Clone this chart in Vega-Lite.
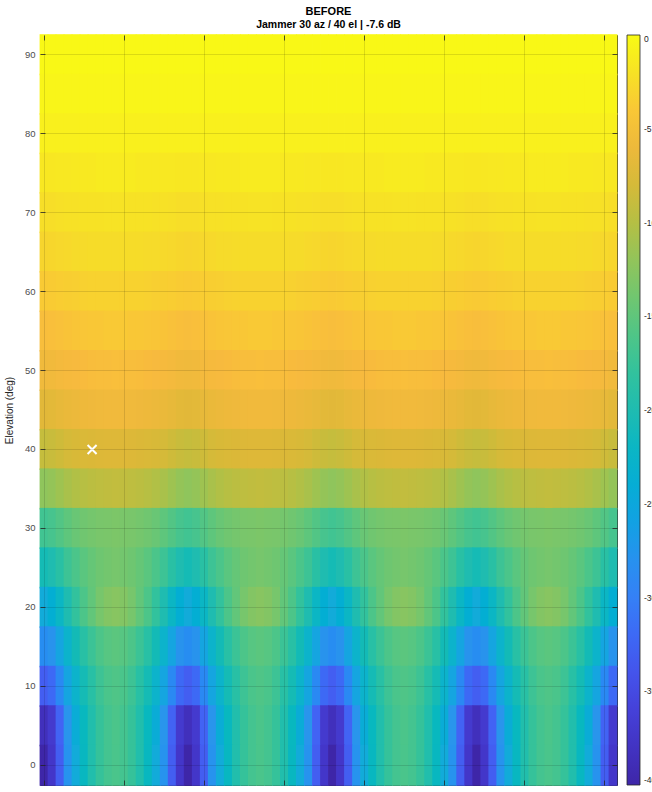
{
"$schema":"https://vega.github.io/schema/vega-lite/v6.json",
"width":577,"height":750,
"autosize":{"type":"none"},
"padding":{"left":40,"top":35,"right":35,"bottom":7},
"background":"white",
"config":{"view":{"stroke":"#262626","strokeWidth":1},"font":"Liberation Sans"},
"title":{"text":"BEFORE","subtitle":"Jammer 30 az / 40 el | -7.6 dB","fontSize":11,"fontWeight":"bold","color":"#000","subtitleFontSize":10.5,"subtitleFontWeight":"bold","subtitleColor":"#000","subtitleFont":"Liberation Sans","anchor":"middle","offset":4,"subtitlePadding":3},
"datasets":{"jam":[{"a":30,"e":40}],
"grid":[
{"a":0,"e":90,"v":-0.2},{"a":5,"e":90,"v":-0.2},{"a":10,"e":90,"v":-0.2},{"a":15,"e":90,"v":-0.2},{"a":20,"e":90,"v":-0.2},{"a":25,"e":90,"v":-0.2},{"a":30,"e":90,"v":-0.2},{"a":35,"e":90,"v":-0.2},{"a":40,"e":90,"v":-0.2},{"a":45,"e":90,"v":-0.2},{"a":50,"e":90,"v":-0.2},{"a":55,"e":90,"v":-0.2},{"a":60,"e":90,"v":-0.2},{"a":65,"e":90,"v":-0.2},{"a":70,"e":90,"v":-0.2},{"a":75,"e":90,"v":-0.2},{"a":80,"e":90,"v":-0.2},{"a":85,"e":90,"v":-0.2},
{"a":90,"e":90,"v":-0.2},{"a":95,"e":90,"v":-0.2},{"a":100,"e":90,"v":-0.2},{"a":105,"e":90,"v":-0.2},{"a":110,"e":90,"v":-0.2},{"a":115,"e":90,"v":-0.2},{"a":120,"e":90,"v":-0.2},{"a":125,"e":90,"v":-0.2},{"a":130,"e":90,"v":-0.2},{"a":135,"e":90,"v":-0.2},{"a":140,"e":90,"v":-0.2},{"a":145,"e":90,"v":-0.2},{"a":150,"e":90,"v":-0.2},{"a":155,"e":90,"v":-0.2},{"a":160,"e":90,"v":-0.2},{"a":165,"e":90,"v":-0.2},{"a":170,"e":90,"v":-0.2},{"a":175,"e":90,"v":-0.2},
{"a":180,"e":90,"v":-0.2},{"a":185,"e":90,"v":-0.2},{"a":190,"e":90,"v":-0.2},{"a":195,"e":90,"v":-0.2},{"a":200,"e":90,"v":-0.2},{"a":205,"e":90,"v":-0.2},{"a":210,"e":90,"v":-0.2},{"a":215,"e":90,"v":-0.2},{"a":220,"e":90,"v":-0.2},{"a":225,"e":90,"v":-0.2},{"a":230,"e":90,"v":-0.2},{"a":235,"e":90,"v":-0.2},{"a":240,"e":90,"v":-0.2},{"a":245,"e":90,"v":-0.2},{"a":250,"e":90,"v":-0.2},{"a":255,"e":90,"v":-0.2},{"a":260,"e":90,"v":-0.2},{"a":265,"e":90,"v":-0.2},
{"a":270,"e":90,"v":-0.2},{"a":275,"e":90,"v":-0.2},{"a":280,"e":90,"v":-0.2},{"a":285,"e":90,"v":-0.2},{"a":290,"e":90,"v":-0.2},{"a":295,"e":90,"v":-0.2},{"a":300,"e":90,"v":-0.2},{"a":305,"e":90,"v":-0.2},{"a":310,"e":90,"v":-0.2},{"a":315,"e":90,"v":-0.2},{"a":320,"e":90,"v":-0.2},{"a":325,"e":90,"v":-0.2},{"a":330,"e":90,"v":-0.2},{"a":335,"e":90,"v":-0.2},{"a":340,"e":90,"v":-0.2},{"a":345,"e":90,"v":-0.2},{"a":350,"e":90,"v":-0.2},{"a":355,"e":90,"v":-0.2},
{"a":0,"e":85,"v":-0.5},{"a":5,"e":85,"v":-0.5},{"a":10,"e":85,"v":-0.5},{"a":15,"e":85,"v":-0.5},{"a":20,"e":85,"v":-0.5},{"a":25,"e":85,"v":-0.5},{"a":30,"e":85,"v":-0.5},{"a":35,"e":85,"v":-0.5},{"a":40,"e":85,"v":-0.5},{"a":45,"e":85,"v":-0.5},{"a":50,"e":85,"v":-0.5},{"a":55,"e":85,"v":-0.5},{"a":60,"e":85,"v":-0.5},{"a":65,"e":85,"v":-0.5},{"a":70,"e":85,"v":-0.5},{"a":75,"e":85,"v":-0.5},{"a":80,"e":85,"v":-0.5},{"a":85,"e":85,"v":-0.5},
{"a":90,"e":85,"v":-0.5},{"a":95,"e":85,"v":-0.5},{"a":100,"e":85,"v":-0.5},{"a":105,"e":85,"v":-0.5},{"a":110,"e":85,"v":-0.5},{"a":115,"e":85,"v":-0.5},{"a":120,"e":85,"v":-0.5},{"a":125,"e":85,"v":-0.5},{"a":130,"e":85,"v":-0.5},{"a":135,"e":85,"v":-0.5},{"a":140,"e":85,"v":-0.5},{"a":145,"e":85,"v":-0.5},{"a":150,"e":85,"v":-0.5},{"a":155,"e":85,"v":-0.5},{"a":160,"e":85,"v":-0.5},{"a":165,"e":85,"v":-0.5},{"a":170,"e":85,"v":-0.5},{"a":175,"e":85,"v":-0.5},
{"a":180,"e":85,"v":-0.5},{"a":185,"e":85,"v":-0.5},{"a":190,"e":85,"v":-0.5},{"a":195,"e":85,"v":-0.5},{"a":200,"e":85,"v":-0.5},{"a":205,"e":85,"v":-0.5},{"a":210,"e":85,"v":-0.5},{"a":215,"e":85,"v":-0.5},{"a":220,"e":85,"v":-0.5},{"a":225,"e":85,"v":-0.5},{"a":230,"e":85,"v":-0.5},{"a":235,"e":85,"v":-0.5},{"a":240,"e":85,"v":-0.5},{"a":245,"e":85,"v":-0.5},{"a":250,"e":85,"v":-0.5},{"a":255,"e":85,"v":-0.5},{"a":260,"e":85,"v":-0.5},{"a":265,"e":85,"v":-0.5},
{"a":270,"e":85,"v":-0.5},{"a":275,"e":85,"v":-0.5},{"a":280,"e":85,"v":-0.5},{"a":285,"e":85,"v":-0.5},{"a":290,"e":85,"v":-0.5},{"a":295,"e":85,"v":-0.5},{"a":300,"e":85,"v":-0.5},{"a":305,"e":85,"v":-0.5},{"a":310,"e":85,"v":-0.5},{"a":315,"e":85,"v":-0.5},{"a":320,"e":85,"v":-0.5},{"a":325,"e":85,"v":-0.5},{"a":330,"e":85,"v":-0.5},{"a":335,"e":85,"v":-0.5},{"a":340,"e":85,"v":-0.5},{"a":345,"e":85,"v":-0.5},{"a":350,"e":85,"v":-0.5},{"a":355,"e":85,"v":-0.5},
{"a":0,"e":80,"v":-0.9},{"a":5,"e":80,"v":-0.9},{"a":10,"e":80,"v":-0.9},{"a":15,"e":80,"v":-0.9},{"a":20,"e":80,"v":-0.9},{"a":25,"e":80,"v":-0.9},{"a":30,"e":80,"v":-0.9},{"a":35,"e":80,"v":-0.9},{"a":40,"e":80,"v":-0.9},{"a":45,"e":80,"v":-0.9},{"a":50,"e":80,"v":-0.9},{"a":55,"e":80,"v":-0.9},{"a":60,"e":80,"v":-0.9},{"a":65,"e":80,"v":-0.9},{"a":70,"e":80,"v":-0.9},{"a":75,"e":80,"v":-0.9},{"a":80,"e":80,"v":-0.9},{"a":85,"e":80,"v":-0.9},
{"a":90,"e":80,"v":-0.9},{"a":95,"e":80,"v":-0.9},{"a":100,"e":80,"v":-0.9},{"a":105,"e":80,"v":-0.9},{"a":110,"e":80,"v":-0.9},{"a":115,"e":80,"v":-0.9},{"a":120,"e":80,"v":-0.9},{"a":125,"e":80,"v":-0.9},{"a":130,"e":80,"v":-0.9},{"a":135,"e":80,"v":-0.9},{"a":140,"e":80,"v":-0.9},{"a":145,"e":80,"v":-0.9},{"a":150,"e":80,"v":-0.9},{"a":155,"e":80,"v":-0.9},{"a":160,"e":80,"v":-0.9},{"a":165,"e":80,"v":-0.9},{"a":170,"e":80,"v":-0.9},{"a":175,"e":80,"v":-0.9},
{"a":180,"e":80,"v":-0.9},{"a":185,"e":80,"v":-0.9},{"a":190,"e":80,"v":-0.9},{"a":195,"e":80,"v":-0.9},{"a":200,"e":80,"v":-0.9},{"a":205,"e":80,"v":-0.9},{"a":210,"e":80,"v":-0.9},{"a":215,"e":80,"v":-0.9},{"a":220,"e":80,"v":-0.9},{"a":225,"e":80,"v":-0.9},{"a":230,"e":80,"v":-0.9},{"a":235,"e":80,"v":-0.9},{"a":240,"e":80,"v":-0.9},{"a":245,"e":80,"v":-0.9},{"a":250,"e":80,"v":-0.9},{"a":255,"e":80,"v":-0.9},{"a":260,"e":80,"v":-0.9},{"a":265,"e":80,"v":-0.9},
{"a":270,"e":80,"v":-0.9},{"a":275,"e":80,"v":-0.9},{"a":280,"e":80,"v":-0.9},{"a":285,"e":80,"v":-0.9},{"a":290,"e":80,"v":-0.9},{"a":295,"e":80,"v":-0.9},{"a":300,"e":80,"v":-0.9},{"a":305,"e":80,"v":-0.9},{"a":310,"e":80,"v":-0.9},{"a":315,"e":80,"v":-0.9},{"a":320,"e":80,"v":-0.9},{"a":325,"e":80,"v":-0.9},{"a":330,"e":80,"v":-0.9},{"a":335,"e":80,"v":-0.9},{"a":340,"e":80,"v":-0.9},{"a":345,"e":80,"v":-0.9},{"a":350,"e":80,"v":-0.9},{"a":355,"e":80,"v":-0.9},
{"a":0,"e":75,"v":-1.6},{"a":5,"e":75,"v":-1.6},{"a":10,"e":75,"v":-1.5},{"a":15,"e":75,"v":-1.5},{"a":20,"e":75,"v":-1.4},{"a":25,"e":75,"v":-1.4},{"a":30,"e":75,"v":-1.4},{"a":35,"e":75,"v":-1.3},{"a":40,"e":75,"v":-1.3},{"a":45,"e":75,"v":-1.3},{"a":50,"e":75,"v":-1.3},{"a":55,"e":75,"v":-1.3},{"a":60,"e":75,"v":-1.4},{"a":65,"e":75,"v":-1.4},{"a":70,"e":75,"v":-1.4},{"a":75,"e":75,"v":-1.5},{"a":80,"e":75,"v":-1.5},{"a":85,"e":75,"v":-1.6},
{"a":90,"e":75,"v":-1.6},{"a":95,"e":75,"v":-1.6},{"a":100,"e":75,"v":-1.5},{"a":105,"e":75,"v":-1.5},{"a":110,"e":75,"v":-1.4},{"a":115,"e":75,"v":-1.4},{"a":120,"e":75,"v":-1.4},{"a":125,"e":75,"v":-1.3},{"a":130,"e":75,"v":-1.3},{"a":135,"e":75,"v":-1.3},{"a":140,"e":75,"v":-1.3},{"a":145,"e":75,"v":-1.3},{"a":150,"e":75,"v":-1.4},{"a":155,"e":75,"v":-1.4},{"a":160,"e":75,"v":-1.4},{"a":165,"e":75,"v":-1.5},{"a":170,"e":75,"v":-1.5},{"a":175,"e":75,"v":-1.6},
{"a":180,"e":75,"v":-1.6},{"a":185,"e":75,"v":-1.6},{"a":190,"e":75,"v":-1.5},{"a":195,"e":75,"v":-1.5},{"a":200,"e":75,"v":-1.4},{"a":205,"e":75,"v":-1.4},{"a":210,"e":75,"v":-1.4},{"a":215,"e":75,"v":-1.3},{"a":220,"e":75,"v":-1.3},{"a":225,"e":75,"v":-1.3},{"a":230,"e":75,"v":-1.3},{"a":235,"e":75,"v":-1.3},{"a":240,"e":75,"v":-1.4},{"a":245,"e":75,"v":-1.4},{"a":250,"e":75,"v":-1.4},{"a":255,"e":75,"v":-1.5},{"a":260,"e":75,"v":-1.5},{"a":265,"e":75,"v":-1.6},
{"a":270,"e":75,"v":-1.6},{"a":275,"e":75,"v":-1.6},{"a":280,"e":75,"v":-1.5},{"a":285,"e":75,"v":-1.5},{"a":290,"e":75,"v":-1.4},{"a":295,"e":75,"v":-1.4},{"a":300,"e":75,"v":-1.4},{"a":305,"e":75,"v":-1.3},{"a":310,"e":75,"v":-1.3},{"a":315,"e":75,"v":-1.3},{"a":320,"e":75,"v":-1.3},{"a":325,"e":75,"v":-1.3},{"a":330,"e":75,"v":-1.4},{"a":335,"e":75,"v":-1.4},{"a":340,"e":75,"v":-1.4},{"a":345,"e":75,"v":-1.5},{"a":350,"e":75,"v":-1.5},{"a":355,"e":75,"v":-1.6},
{"a":0,"e":70,"v":-2.3},{"a":5,"e":70,"v":-2.3},{"a":10,"e":70,"v":-2.2},{"a":15,"e":70,"v":-2.1},{"a":20,"e":70,"v":-2.1},{"a":25,"e":70,"v":-2.0},{"a":30,"e":70,"v":-2.0},{"a":35,"e":70,"v":-2.0},{"a":40,"e":70,"v":-1.9},{"a":45,"e":70,"v":-1.9},{"a":50,"e":70,"v":-1.9},{"a":55,"e":70,"v":-2.0},{"a":60,"e":70,"v":-2.0},{"a":65,"e":70,"v":-2.0},{"a":70,"e":70,"v":-2.1},{"a":75,"e":70,"v":-2.1},{"a":80,"e":70,"v":-2.2},{"a":85,"e":70,"v":-2.3},
{"a":90,"e":70,"v":-2.3},{"a":95,"e":70,"v":-2.3},{"a":100,"e":70,"v":-2.2},{"a":105,"e":70,"v":-2.1},{"a":110,"e":70,"v":-2.1},{"a":115,"e":70,"v":-2.0},{"a":120,"e":70,"v":-2.0},{"a":125,"e":70,"v":-2.0},{"a":130,"e":70,"v":-1.9},{"a":135,"e":70,"v":-1.9},{"a":140,"e":70,"v":-1.9},{"a":145,"e":70,"v":-2.0},{"a":150,"e":70,"v":-2.0},{"a":155,"e":70,"v":-2.0},{"a":160,"e":70,"v":-2.1},{"a":165,"e":70,"v":-2.1},{"a":170,"e":70,"v":-2.2},{"a":175,"e":70,"v":-2.3},
{"a":180,"e":70,"v":-2.3},{"a":185,"e":70,"v":-2.3},{"a":190,"e":70,"v":-2.2},{"a":195,"e":70,"v":-2.1},{"a":200,"e":70,"v":-2.1},{"a":205,"e":70,"v":-2.0},{"a":210,"e":70,"v":-2.0},{"a":215,"e":70,"v":-2.0},{"a":220,"e":70,"v":-1.9},{"a":225,"e":70,"v":-1.9},{"a":230,"e":70,"v":-1.9},{"a":235,"e":70,"v":-2.0},{"a":240,"e":70,"v":-2.0},{"a":245,"e":70,"v":-2.0},{"a":250,"e":70,"v":-2.1},{"a":255,"e":70,"v":-2.1},{"a":260,"e":70,"v":-2.2},{"a":265,"e":70,"v":-2.3},
{"a":270,"e":70,"v":-2.3},{"a":275,"e":70,"v":-2.3},{"a":280,"e":70,"v":-2.2},{"a":285,"e":70,"v":-2.1},{"a":290,"e":70,"v":-2.1},{"a":295,"e":70,"v":-2.0},{"a":300,"e":70,"v":-2.0},{"a":305,"e":70,"v":-2.0},{"a":310,"e":70,"v":-1.9},{"a":315,"e":70,"v":-1.9},{"a":320,"e":70,"v":-1.9},{"a":325,"e":70,"v":-2.0},{"a":330,"e":70,"v":-2.0},{"a":335,"e":70,"v":-2.0},{"a":340,"e":70,"v":-2.1},{"a":345,"e":70,"v":-2.1},{"a":350,"e":70,"v":-2.2},{"a":355,"e":70,"v":-2.3},
{"a":0,"e":65,"v":-3.0},{"a":5,"e":65,"v":-2.9},{"a":10,"e":65,"v":-2.8},{"a":15,"e":65,"v":-2.7},{"a":20,"e":65,"v":-2.6},{"a":25,"e":65,"v":-2.6},{"a":30,"e":65,"v":-2.5},{"a":35,"e":65,"v":-2.5},{"a":40,"e":65,"v":-2.5},{"a":45,"e":65,"v":-2.5},{"a":50,"e":65,"v":-2.5},{"a":55,"e":65,"v":-2.5},{"a":60,"e":65,"v":-2.5},{"a":65,"e":65,"v":-2.6},{"a":70,"e":65,"v":-2.6},{"a":75,"e":65,"v":-2.7},{"a":80,"e":65,"v":-2.8},{"a":85,"e":65,"v":-2.9},
{"a":90,"e":65,"v":-3.0},{"a":95,"e":65,"v":-2.9},{"a":100,"e":65,"v":-2.8},{"a":105,"e":65,"v":-2.7},{"a":110,"e":65,"v":-2.6},{"a":115,"e":65,"v":-2.6},{"a":120,"e":65,"v":-2.5},{"a":125,"e":65,"v":-2.5},{"a":130,"e":65,"v":-2.5},{"a":135,"e":65,"v":-2.5},{"a":140,"e":65,"v":-2.5},{"a":145,"e":65,"v":-2.5},{"a":150,"e":65,"v":-2.5},{"a":155,"e":65,"v":-2.6},{"a":160,"e":65,"v":-2.6},{"a":165,"e":65,"v":-2.7},{"a":170,"e":65,"v":-2.8},{"a":175,"e":65,"v":-2.9},
{"a":180,"e":65,"v":-3.0},{"a":185,"e":65,"v":-2.9},{"a":190,"e":65,"v":-2.8},{"a":195,"e":65,"v":-2.7},{"a":200,"e":65,"v":-2.6},{"a":205,"e":65,"v":-2.6},{"a":210,"e":65,"v":-2.5},{"a":215,"e":65,"v":-2.5},{"a":220,"e":65,"v":-2.5},{"a":225,"e":65,"v":-2.5},{"a":230,"e":65,"v":-2.5},{"a":235,"e":65,"v":-2.5},{"a":240,"e":65,"v":-2.5},{"a":245,"e":65,"v":-2.6},{"a":250,"e":65,"v":-2.6},{"a":255,"e":65,"v":-2.7},{"a":260,"e":65,"v":-2.8},{"a":265,"e":65,"v":-2.9},
{"a":270,"e":65,"v":-3.0},{"a":275,"e":65,"v":-2.9},{"a":280,"e":65,"v":-2.8},{"a":285,"e":65,"v":-2.7},{"a":290,"e":65,"v":-2.6},{"a":295,"e":65,"v":-2.6},{"a":300,"e":65,"v":-2.5},{"a":305,"e":65,"v":-2.5},{"a":310,"e":65,"v":-2.5},{"a":315,"e":65,"v":-2.5},{"a":320,"e":65,"v":-2.5},{"a":325,"e":65,"v":-2.5},{"a":330,"e":65,"v":-2.5},{"a":335,"e":65,"v":-2.6},{"a":340,"e":65,"v":-2.6},{"a":345,"e":65,"v":-2.7},{"a":350,"e":65,"v":-2.8},{"a":355,"e":65,"v":-2.9},
{"a":0,"e":60,"v":-3.8},{"a":5,"e":60,"v":-3.7},{"a":10,"e":60,"v":-3.6},{"a":15,"e":60,"v":-3.5},{"a":20,"e":60,"v":-3.4},{"a":25,"e":60,"v":-3.3},{"a":30,"e":60,"v":-3.2},{"a":35,"e":60,"v":-3.2},{"a":40,"e":60,"v":-3.2},{"a":45,"e":60,"v":-3.2},{"a":50,"e":60,"v":-3.2},{"a":55,"e":60,"v":-3.2},{"a":60,"e":60,"v":-3.2},{"a":65,"e":60,"v":-3.3},{"a":70,"e":60,"v":-3.4},{"a":75,"e":60,"v":-3.5},{"a":80,"e":60,"v":-3.6},{"a":85,"e":60,"v":-3.7},
{"a":90,"e":60,"v":-3.8},{"a":95,"e":60,"v":-3.7},{"a":100,"e":60,"v":-3.6},{"a":105,"e":60,"v":-3.5},{"a":110,"e":60,"v":-3.4},{"a":115,"e":60,"v":-3.3},{"a":120,"e":60,"v":-3.2},{"a":125,"e":60,"v":-3.2},{"a":130,"e":60,"v":-3.2},{"a":135,"e":60,"v":-3.2},{"a":140,"e":60,"v":-3.2},{"a":145,"e":60,"v":-3.2},{"a":150,"e":60,"v":-3.2},{"a":155,"e":60,"v":-3.3},{"a":160,"e":60,"v":-3.4},{"a":165,"e":60,"v":-3.5},{"a":170,"e":60,"v":-3.6},{"a":175,"e":60,"v":-3.7},
{"a":180,"e":60,"v":-3.8},{"a":185,"e":60,"v":-3.7},{"a":190,"e":60,"v":-3.6},{"a":195,"e":60,"v":-3.5},{"a":200,"e":60,"v":-3.4},{"a":205,"e":60,"v":-3.3},{"a":210,"e":60,"v":-3.2},{"a":215,"e":60,"v":-3.2},{"a":220,"e":60,"v":-3.2},{"a":225,"e":60,"v":-3.2},{"a":230,"e":60,"v":-3.2},{"a":235,"e":60,"v":-3.2},{"a":240,"e":60,"v":-3.2},{"a":245,"e":60,"v":-3.3},{"a":250,"e":60,"v":-3.4},{"a":255,"e":60,"v":-3.5},{"a":260,"e":60,"v":-3.6},{"a":265,"e":60,"v":-3.7},
{"a":270,"e":60,"v":-3.8},{"a":275,"e":60,"v":-3.7},{"a":280,"e":60,"v":-3.6},{"a":285,"e":60,"v":-3.5},{"a":290,"e":60,"v":-3.4},{"a":295,"e":60,"v":-3.3},{"a":300,"e":60,"v":-3.2},{"a":305,"e":60,"v":-3.2},{"a":310,"e":60,"v":-3.2},{"a":315,"e":60,"v":-3.2},{"a":320,"e":60,"v":-3.2},{"a":325,"e":60,"v":-3.2},{"a":330,"e":60,"v":-3.2},{"a":335,"e":60,"v":-3.3},{"a":340,"e":60,"v":-3.4},{"a":345,"e":60,"v":-3.5},{"a":350,"e":60,"v":-3.6},{"a":355,"e":60,"v":-3.7},
{"a":0,"e":55,"v":-4.7},{"a":5,"e":55,"v":-4.6},{"a":10,"e":55,"v":-4.5},{"a":15,"e":55,"v":-4.3},{"a":20,"e":55,"v":-4.2},{"a":25,"e":55,"v":-4.1},{"a":30,"e":55,"v":-4.0},{"a":35,"e":55,"v":-4.0},{"a":40,"e":55,"v":-3.9},{"a":45,"e":55,"v":-3.9},{"a":50,"e":55,"v":-3.9},{"a":55,"e":55,"v":-4.0},{"a":60,"e":55,"v":-4.0},{"a":65,"e":55,"v":-4.1},{"a":70,"e":55,"v":-4.2},{"a":75,"e":55,"v":-4.3},{"a":80,"e":55,"v":-4.5},{"a":85,"e":55,"v":-4.6},
{"a":90,"e":55,"v":-4.7},{"a":95,"e":55,"v":-4.6},{"a":100,"e":55,"v":-4.5},{"a":105,"e":55,"v":-4.3},{"a":110,"e":55,"v":-4.2},{"a":115,"e":55,"v":-4.1},{"a":120,"e":55,"v":-4.0},{"a":125,"e":55,"v":-4.0},{"a":130,"e":55,"v":-3.9},{"a":135,"e":55,"v":-3.9},{"a":140,"e":55,"v":-3.9},{"a":145,"e":55,"v":-4.0},{"a":150,"e":55,"v":-4.0},{"a":155,"e":55,"v":-4.1},{"a":160,"e":55,"v":-4.2},{"a":165,"e":55,"v":-4.3},{"a":170,"e":55,"v":-4.5},{"a":175,"e":55,"v":-4.6},
{"a":180,"e":55,"v":-4.7},{"a":185,"e":55,"v":-4.6},{"a":190,"e":55,"v":-4.5},{"a":195,"e":55,"v":-4.3},{"a":200,"e":55,"v":-4.2},{"a":205,"e":55,"v":-4.1},{"a":210,"e":55,"v":-4.0},{"a":215,"e":55,"v":-4.0},{"a":220,"e":55,"v":-3.9},{"a":225,"e":55,"v":-3.9},{"a":230,"e":55,"v":-3.9},{"a":235,"e":55,"v":-4.0},{"a":240,"e":55,"v":-4.0},{"a":245,"e":55,"v":-4.1},{"a":250,"e":55,"v":-4.2},{"a":255,"e":55,"v":-4.3},{"a":260,"e":55,"v":-4.5},{"a":265,"e":55,"v":-4.6},
{"a":270,"e":55,"v":-4.7},{"a":275,"e":55,"v":-4.6},{"a":280,"e":55,"v":-4.5},{"a":285,"e":55,"v":-4.3},{"a":290,"e":55,"v":-4.2},{"a":295,"e":55,"v":-4.1},{"a":300,"e":55,"v":-4.0},{"a":305,"e":55,"v":-4.0},{"a":310,"e":55,"v":-3.9},{"a":315,"e":55,"v":-3.9},{"a":320,"e":55,"v":-3.9},{"a":325,"e":55,"v":-4.0},{"a":330,"e":55,"v":-4.0},{"a":335,"e":55,"v":-4.1},{"a":340,"e":55,"v":-4.2},{"a":345,"e":55,"v":-4.3},{"a":350,"e":55,"v":-4.5},{"a":355,"e":55,"v":-4.6},
{"a":0,"e":50,"v":-5.7},{"a":5,"e":50,"v":-5.6},{"a":10,"e":50,"v":-5.4},{"a":15,"e":50,"v":-5.2},{"a":20,"e":50,"v":-5.1},{"a":25,"e":50,"v":-4.9},{"a":30,"e":50,"v":-4.8},{"a":35,"e":50,"v":-4.7},{"a":40,"e":50,"v":-4.7},{"a":45,"e":50,"v":-4.6},{"a":50,"e":50,"v":-4.7},{"a":55,"e":50,"v":-4.7},{"a":60,"e":50,"v":-4.8},{"a":65,"e":50,"v":-4.9},{"a":70,"e":50,"v":-5.1},{"a":75,"e":50,"v":-5.2},{"a":80,"e":50,"v":-5.4},{"a":85,"e":50,"v":-5.6},
{"a":90,"e":50,"v":-5.7},{"a":95,"e":50,"v":-5.6},{"a":100,"e":50,"v":-5.4},{"a":105,"e":50,"v":-5.2},{"a":110,"e":50,"v":-5.1},{"a":115,"e":50,"v":-4.9},{"a":120,"e":50,"v":-4.8},{"a":125,"e":50,"v":-4.7},{"a":130,"e":50,"v":-4.7},{"a":135,"e":50,"v":-4.6},{"a":140,"e":50,"v":-4.7},{"a":145,"e":50,"v":-4.7},{"a":150,"e":50,"v":-4.8},{"a":155,"e":50,"v":-4.9},{"a":160,"e":50,"v":-5.1},{"a":165,"e":50,"v":-5.2},{"a":170,"e":50,"v":-5.4},{"a":175,"e":50,"v":-5.6},
{"a":180,"e":50,"v":-5.7},{"a":185,"e":50,"v":-5.6},{"a":190,"e":50,"v":-5.4},{"a":195,"e":50,"v":-5.2},{"a":200,"e":50,"v":-5.1},{"a":205,"e":50,"v":-4.9},{"a":210,"e":50,"v":-4.8},{"a":215,"e":50,"v":-4.7},{"a":220,"e":50,"v":-4.7},{"a":225,"e":50,"v":-4.6},{"a":230,"e":50,"v":-4.7},{"a":235,"e":50,"v":-4.7},{"a":240,"e":50,"v":-4.8},{"a":245,"e":50,"v":-4.9},{"a":250,"e":50,"v":-5.1},{"a":255,"e":50,"v":-5.2},{"a":260,"e":50,"v":-5.4},{"a":265,"e":50,"v":-5.6},
{"a":270,"e":50,"v":-5.7},{"a":275,"e":50,"v":-5.6},{"a":280,"e":50,"v":-5.4},{"a":285,"e":50,"v":-5.2},{"a":290,"e":50,"v":-5.1},{"a":295,"e":50,"v":-4.9},{"a":300,"e":50,"v":-4.8},{"a":305,"e":50,"v":-4.7},{"a":310,"e":50,"v":-4.7},{"a":315,"e":50,"v":-4.6},{"a":320,"e":50,"v":-4.7},{"a":325,"e":50,"v":-4.7},{"a":330,"e":50,"v":-4.8},{"a":335,"e":50,"v":-4.9},{"a":340,"e":50,"v":-5.1},{"a":345,"e":50,"v":-5.2},{"a":350,"e":50,"v":-5.4},{"a":355,"e":50,"v":-5.6},
{"a":0,"e":45,"v":-7.0},{"a":5,"e":45,"v":-6.9},{"a":10,"e":45,"v":-6.6},{"a":15,"e":45,"v":-6.3},{"a":20,"e":45,"v":-6.1},{"a":25,"e":45,"v":-5.9},{"a":30,"e":45,"v":-5.8},{"a":35,"e":45,"v":-5.7},{"a":40,"e":45,"v":-5.6},{"a":45,"e":45,"v":-5.6},{"a":50,"e":45,"v":-5.6},{"a":55,"e":45,"v":-5.7},{"a":60,"e":45,"v":-5.8},{"a":65,"e":45,"v":-5.9},{"a":70,"e":45,"v":-6.1},{"a":75,"e":45,"v":-6.3},{"a":80,"e":45,"v":-6.6},{"a":85,"e":45,"v":-6.9},
{"a":90,"e":45,"v":-7.0},{"a":95,"e":45,"v":-6.9},{"a":100,"e":45,"v":-6.6},{"a":105,"e":45,"v":-6.3},{"a":110,"e":45,"v":-6.1},{"a":115,"e":45,"v":-5.9},{"a":120,"e":45,"v":-5.8},{"a":125,"e":45,"v":-5.7},{"a":130,"e":45,"v":-5.6},{"a":135,"e":45,"v":-5.6},{"a":140,"e":45,"v":-5.6},{"a":145,"e":45,"v":-5.7},{"a":150,"e":45,"v":-5.8},{"a":155,"e":45,"v":-5.9},{"a":160,"e":45,"v":-6.1},{"a":165,"e":45,"v":-6.3},{"a":170,"e":45,"v":-6.6},{"a":175,"e":45,"v":-6.9},
{"a":180,"e":45,"v":-7.0},{"a":185,"e":45,"v":-6.9},{"a":190,"e":45,"v":-6.6},{"a":195,"e":45,"v":-6.3},{"a":200,"e":45,"v":-6.1},{"a":205,"e":45,"v":-5.9},{"a":210,"e":45,"v":-5.8},{"a":215,"e":45,"v":-5.7},{"a":220,"e":45,"v":-5.6},{"a":225,"e":45,"v":-5.6},{"a":230,"e":45,"v":-5.6},{"a":235,"e":45,"v":-5.7},{"a":240,"e":45,"v":-5.8},{"a":245,"e":45,"v":-5.9},{"a":250,"e":45,"v":-6.1},{"a":255,"e":45,"v":-6.3},{"a":260,"e":45,"v":-6.6},{"a":265,"e":45,"v":-6.9},
{"a":270,"e":45,"v":-7.0},{"a":275,"e":45,"v":-6.9},{"a":280,"e":45,"v":-6.6},{"a":285,"e":45,"v":-6.3},{"a":290,"e":45,"v":-6.1},{"a":295,"e":45,"v":-5.9},{"a":300,"e":45,"v":-5.8},{"a":305,"e":45,"v":-5.7},{"a":310,"e":45,"v":-5.6},{"a":315,"e":45,"v":-5.6},{"a":320,"e":45,"v":-5.6},{"a":325,"e":45,"v":-5.7},{"a":330,"e":45,"v":-5.8},{"a":335,"e":45,"v":-5.9},{"a":340,"e":45,"v":-6.1},{"a":345,"e":45,"v":-6.3},{"a":350,"e":45,"v":-6.6},{"a":355,"e":45,"v":-6.9},
{"a":0,"e":40,"v":-9.0},{"a":5,"e":40,"v":-8.8},{"a":10,"e":40,"v":-8.4},{"a":15,"e":40,"v":-8.0},{"a":20,"e":40,"v":-7.8},{"a":25,"e":40,"v":-7.7},{"a":30,"e":40,"v":-7.6},{"a":35,"e":40,"v":-7.5},{"a":40,"e":40,"v":-7.4},{"a":45,"e":40,"v":-7.4},{"a":50,"e":40,"v":-7.4},{"a":55,"e":40,"v":-7.5},{"a":60,"e":40,"v":-7.6},{"a":65,"e":40,"v":-7.7},{"a":70,"e":40,"v":-7.8},{"a":75,"e":40,"v":-8.0},{"a":80,"e":40,"v":-8.4},{"a":85,"e":40,"v":-8.8},
{"a":90,"e":40,"v":-9.0},{"a":95,"e":40,"v":-8.8},{"a":100,"e":40,"v":-8.4},{"a":105,"e":40,"v":-8.0},{"a":110,"e":40,"v":-7.8},{"a":115,"e":40,"v":-7.7},{"a":120,"e":40,"v":-7.6},{"a":125,"e":40,"v":-7.5},{"a":130,"e":40,"v":-7.4},{"a":135,"e":40,"v":-7.4},{"a":140,"e":40,"v":-7.4},{"a":145,"e":40,"v":-7.5},{"a":150,"e":40,"v":-7.6},{"a":155,"e":40,"v":-7.7},{"a":160,"e":40,"v":-7.8},{"a":165,"e":40,"v":-8.0},{"a":170,"e":40,"v":-8.4},{"a":175,"e":40,"v":-8.8},
{"a":180,"e":40,"v":-9.0},{"a":185,"e":40,"v":-8.8},{"a":190,"e":40,"v":-8.4},{"a":195,"e":40,"v":-8.0},{"a":200,"e":40,"v":-7.8},{"a":205,"e":40,"v":-7.7},{"a":210,"e":40,"v":-7.6},{"a":215,"e":40,"v":-7.5},{"a":220,"e":40,"v":-7.4},{"a":225,"e":40,"v":-7.4},{"a":230,"e":40,"v":-7.4},{"a":235,"e":40,"v":-7.5},{"a":240,"e":40,"v":-7.6},{"a":245,"e":40,"v":-7.7},{"a":250,"e":40,"v":-7.8},{"a":255,"e":40,"v":-8.0},{"a":260,"e":40,"v":-8.4},{"a":265,"e":40,"v":-8.8},
{"a":270,"e":40,"v":-9.0},{"a":275,"e":40,"v":-8.8},{"a":280,"e":40,"v":-8.4},{"a":285,"e":40,"v":-8.0},{"a":290,"e":40,"v":-7.8},{"a":295,"e":40,"v":-7.7},{"a":300,"e":40,"v":-7.6},{"a":305,"e":40,"v":-7.5},{"a":310,"e":40,"v":-7.4},{"a":315,"e":40,"v":-7.4},{"a":320,"e":40,"v":-7.4},{"a":325,"e":40,"v":-7.5},{"a":330,"e":40,"v":-7.6},{"a":335,"e":40,"v":-7.7},{"a":340,"e":40,"v":-7.8},{"a":345,"e":40,"v":-8.0},{"a":350,"e":40,"v":-8.4},{"a":355,"e":40,"v":-8.8},
{"a":0,"e":35,"v":-12.2},{"a":5,"e":35,"v":-11.9},{"a":10,"e":35,"v":-11.3},{"a":15,"e":35,"v":-10.7},{"a":20,"e":35,"v":-10.2},{"a":25,"e":35,"v":-9.9},{"a":30,"e":35,"v":-9.6},{"a":35,"e":35,"v":-9.4},{"a":40,"e":35,"v":-9.3},{"a":45,"e":35,"v":-9.2},{"a":50,"e":35,"v":-9.3},{"a":55,"e":35,"v":-9.4},{"a":60,"e":35,"v":-9.6},{"a":65,"e":35,"v":-9.9},{"a":70,"e":35,"v":-10.2},{"a":75,"e":35,"v":-10.7},{"a":80,"e":35,"v":-11.3},{"a":85,"e":35,"v":-11.9},
{"a":90,"e":35,"v":-12.2},{"a":95,"e":35,"v":-11.9},{"a":100,"e":35,"v":-11.3},{"a":105,"e":35,"v":-10.7},{"a":110,"e":35,"v":-10.2},{"a":115,"e":35,"v":-9.9},{"a":120,"e":35,"v":-9.6},{"a":125,"e":35,"v":-9.4},{"a":130,"e":35,"v":-9.3},{"a":135,"e":35,"v":-9.2},{"a":140,"e":35,"v":-9.3},{"a":145,"e":35,"v":-9.4},{"a":150,"e":35,"v":-9.6},{"a":155,"e":35,"v":-9.9},{"a":160,"e":35,"v":-10.2},{"a":165,"e":35,"v":-10.7},{"a":170,"e":35,"v":-11.3},{"a":175,"e":35,"v":-11.9},
{"a":180,"e":35,"v":-12.2},{"a":185,"e":35,"v":-11.9},{"a":190,"e":35,"v":-11.3},{"a":195,"e":35,"v":-10.7},{"a":200,"e":35,"v":-10.2},{"a":205,"e":35,"v":-9.9},{"a":210,"e":35,"v":-9.6},{"a":215,"e":35,"v":-9.4},{"a":220,"e":35,"v":-9.3},{"a":225,"e":35,"v":-9.2},{"a":230,"e":35,"v":-9.3},{"a":235,"e":35,"v":-9.4},{"a":240,"e":35,"v":-9.6},{"a":245,"e":35,"v":-9.9},{"a":250,"e":35,"v":-10.2},{"a":255,"e":35,"v":-10.7},{"a":260,"e":35,"v":-11.3},{"a":265,"e":35,"v":-11.9},
{"a":270,"e":35,"v":-12.2},{"a":275,"e":35,"v":-11.9},{"a":280,"e":35,"v":-11.3},{"a":285,"e":35,"v":-10.7},{"a":290,"e":35,"v":-10.2},{"a":295,"e":35,"v":-9.9},{"a":300,"e":35,"v":-9.6},{"a":305,"e":35,"v":-9.4},{"a":310,"e":35,"v":-9.3},{"a":315,"e":35,"v":-9.2},{"a":320,"e":35,"v":-9.3},{"a":325,"e":35,"v":-9.4},{"a":330,"e":35,"v":-9.6},{"a":335,"e":35,"v":-9.9},{"a":340,"e":35,"v":-10.2},{"a":345,"e":35,"v":-10.7},{"a":350,"e":35,"v":-11.3},{"a":355,"e":35,"v":-11.9},
{"a":0,"e":30,"v":-17.0},{"a":5,"e":30,"v":-16.6},{"a":10,"e":30,"v":-15.8},{"a":15,"e":30,"v":-15.0},{"a":20,"e":30,"v":-14.4},{"a":25,"e":30,"v":-14.0},{"a":30,"e":30,"v":-13.7},{"a":35,"e":30,"v":-13.5},{"a":40,"e":30,"v":-13.4},{"a":45,"e":30,"v":-13.3},{"a":50,"e":30,"v":-13.4},{"a":55,"e":30,"v":-13.5},{"a":60,"e":30,"v":-13.7},{"a":65,"e":30,"v":-14.0},{"a":70,"e":30,"v":-14.4},{"a":75,"e":30,"v":-15.0},{"a":80,"e":30,"v":-15.8},{"a":85,"e":30,"v":-16.6},
{"a":90,"e":30,"v":-17.0},{"a":95,"e":30,"v":-16.6},{"a":100,"e":30,"v":-15.8},{"a":105,"e":30,"v":-15.0},{"a":110,"e":30,"v":-14.4},{"a":115,"e":30,"v":-14.0},{"a":120,"e":30,"v":-13.7},{"a":125,"e":30,"v":-13.5},{"a":130,"e":30,"v":-13.4},{"a":135,"e":30,"v":-13.3},{"a":140,"e":30,"v":-13.4},{"a":145,"e":30,"v":-13.5},{"a":150,"e":30,"v":-13.7},{"a":155,"e":30,"v":-14.0},{"a":160,"e":30,"v":-14.4},{"a":165,"e":30,"v":-15.0},{"a":170,"e":30,"v":-15.8},{"a":175,"e":30,"v":-16.6},
{"a":180,"e":30,"v":-17.0},{"a":185,"e":30,"v":-16.6},{"a":190,"e":30,"v":-15.8},{"a":195,"e":30,"v":-15.0},{"a":200,"e":30,"v":-14.4},{"a":205,"e":30,"v":-14.0},{"a":210,"e":30,"v":-13.7},{"a":215,"e":30,"v":-13.5},{"a":220,"e":30,"v":-13.4},{"a":225,"e":30,"v":-13.3},{"a":230,"e":30,"v":-13.4},{"a":235,"e":30,"v":-13.5},{"a":240,"e":30,"v":-13.7},{"a":245,"e":30,"v":-14.0},{"a":250,"e":30,"v":-14.4},{"a":255,"e":30,"v":-15.0},{"a":260,"e":30,"v":-15.8},{"a":265,"e":30,"v":-16.6},
{"a":270,"e":30,"v":-17.0},{"a":275,"e":30,"v":-16.6},{"a":280,"e":30,"v":-15.8},{"a":285,"e":30,"v":-15.0},{"a":290,"e":30,"v":-14.4},{"a":295,"e":30,"v":-14.0},{"a":300,"e":30,"v":-13.7},{"a":305,"e":30,"v":-13.5},{"a":310,"e":30,"v":-13.4},{"a":315,"e":30,"v":-13.3},{"a":320,"e":30,"v":-13.4},{"a":325,"e":30,"v":-13.5},{"a":330,"e":30,"v":-13.7},{"a":335,"e":30,"v":-14.0},{"a":340,"e":30,"v":-14.4},{"a":345,"e":30,"v":-15.0},{"a":350,"e":30,"v":-15.8},{"a":355,"e":30,"v":-16.6},
{"a":0,"e":25,"v":-20.5},{"a":5,"e":25,"v":-20.0},{"a":10,"e":25,"v":-18.7},{"a":15,"e":25,"v":-17.3},{"a":20,"e":25,"v":-16.3},{"a":25,"e":25,"v":-15.3},{"a":30,"e":25,"v":-14.6},{"a":35,"e":25,"v":-14.1},{"a":40,"e":25,"v":-13.8},{"a":45,"e":25,"v":-13.6},{"a":50,"e":25,"v":-13.8},{"a":55,"e":25,"v":-14.1},{"a":60,"e":25,"v":-14.6},{"a":65,"e":25,"v":-15.3},{"a":70,"e":25,"v":-16.3},{"a":75,"e":25,"v":-17.3},{"a":80,"e":25,"v":-18.7},{"a":85,"e":25,"v":-20.0},
{"a":90,"e":25,"v":-20.5},{"a":95,"e":25,"v":-20.0},{"a":100,"e":25,"v":-18.7},{"a":105,"e":25,"v":-17.3},{"a":110,"e":25,"v":-16.3},{"a":115,"e":25,"v":-15.3},{"a":120,"e":25,"v":-14.6},{"a":125,"e":25,"v":-14.1},{"a":130,"e":25,"v":-13.8},{"a":135,"e":25,"v":-13.6},{"a":140,"e":25,"v":-13.8},{"a":145,"e":25,"v":-14.1},{"a":150,"e":25,"v":-14.6},{"a":155,"e":25,"v":-15.3},{"a":160,"e":25,"v":-16.3},{"a":165,"e":25,"v":-17.3},{"a":170,"e":25,"v":-18.7},{"a":175,"e":25,"v":-20.0},
{"a":180,"e":25,"v":-20.5},{"a":185,"e":25,"v":-20.0},{"a":190,"e":25,"v":-18.7},{"a":195,"e":25,"v":-17.3},{"a":200,"e":25,"v":-16.3},{"a":205,"e":25,"v":-15.3},{"a":210,"e":25,"v":-14.6},{"a":215,"e":25,"v":-14.1},{"a":220,"e":25,"v":-13.8},{"a":225,"e":25,"v":-13.6},{"a":230,"e":25,"v":-13.8},{"a":235,"e":25,"v":-14.1},{"a":240,"e":25,"v":-14.6},{"a":245,"e":25,"v":-15.3},{"a":250,"e":25,"v":-16.3},{"a":255,"e":25,"v":-17.3},{"a":260,"e":25,"v":-18.7},{"a":265,"e":25,"v":-20.0},
{"a":270,"e":25,"v":-20.5},{"a":275,"e":25,"v":-20.0},{"a":280,"e":25,"v":-18.7},{"a":285,"e":25,"v":-17.3},{"a":290,"e":25,"v":-16.3},{"a":295,"e":25,"v":-15.3},{"a":300,"e":25,"v":-14.6},{"a":305,"e":25,"v":-14.1},{"a":310,"e":25,"v":-13.8},{"a":315,"e":25,"v":-13.6},{"a":320,"e":25,"v":-13.8},{"a":325,"e":25,"v":-14.1},{"a":330,"e":25,"v":-14.6},{"a":335,"e":25,"v":-15.3},{"a":340,"e":25,"v":-16.3},{"a":345,"e":25,"v":-17.3},{"a":350,"e":25,"v":-18.7},{"a":355,"e":25,"v":-20.0},
{"a":0,"e":20,"v":-24.5},{"a":5,"e":20,"v":-23.8},{"a":10,"e":20,"v":-22.0},{"a":15,"e":20,"v":-20.0},{"a":20,"e":20,"v":-18.0},{"a":25,"e":20,"v":-16.2},{"a":30,"e":20,"v":-14.8},{"a":35,"e":20,"v":-13.6},{"a":40,"e":20,"v":-12.9},{"a":45,"e":20,"v":-12.6},{"a":50,"e":20,"v":-12.9},{"a":55,"e":20,"v":-13.6},{"a":60,"e":20,"v":-14.8},{"a":65,"e":20,"v":-16.2},{"a":70,"e":20,"v":-18.0},{"a":75,"e":20,"v":-20.0},{"a":80,"e":20,"v":-22.0},{"a":85,"e":20,"v":-23.8},
{"a":90,"e":20,"v":-24.5},{"a":95,"e":20,"v":-23.8},{"a":100,"e":20,"v":-22.0},{"a":105,"e":20,"v":-20.0},{"a":110,"e":20,"v":-18.0},{"a":115,"e":20,"v":-16.2},{"a":120,"e":20,"v":-14.8},{"a":125,"e":20,"v":-13.6},{"a":130,"e":20,"v":-12.9},{"a":135,"e":20,"v":-12.6},{"a":140,"e":20,"v":-12.9},{"a":145,"e":20,"v":-13.6},{"a":150,"e":20,"v":-14.8},{"a":155,"e":20,"v":-16.2},{"a":160,"e":20,"v":-18.0},{"a":165,"e":20,"v":-20.0},{"a":170,"e":20,"v":-22.0},{"a":175,"e":20,"v":-23.8},
{"a":180,"e":20,"v":-24.5},{"a":185,"e":20,"v":-23.8},{"a":190,"e":20,"v":-22.0},{"a":195,"e":20,"v":-20.0},{"a":200,"e":20,"v":-18.0},{"a":205,"e":20,"v":-16.2},{"a":210,"e":20,"v":-14.8},{"a":215,"e":20,"v":-13.6},{"a":220,"e":20,"v":-12.9},{"a":225,"e":20,"v":-12.6},{"a":230,"e":20,"v":-12.9},{"a":235,"e":20,"v":-13.6},{"a":240,"e":20,"v":-14.8},{"a":245,"e":20,"v":-16.2},{"a":250,"e":20,"v":-18.0},{"a":255,"e":20,"v":-20.0},{"a":260,"e":20,"v":-22.0},{"a":265,"e":20,"v":-23.8},
{"a":270,"e":20,"v":-24.5},{"a":275,"e":20,"v":-23.8},{"a":280,"e":20,"v":-22.0},{"a":285,"e":20,"v":-20.0},{"a":290,"e":20,"v":-18.0},{"a":295,"e":20,"v":-16.2},{"a":300,"e":20,"v":-14.8},{"a":305,"e":20,"v":-13.6},{"a":310,"e":20,"v":-12.9},{"a":315,"e":20,"v":-12.6},{"a":320,"e":20,"v":-12.9},{"a":325,"e":20,"v":-13.6},{"a":330,"e":20,"v":-14.8},{"a":335,"e":20,"v":-16.2},{"a":340,"e":20,"v":-18.0},{"a":345,"e":20,"v":-20.0},{"a":350,"e":20,"v":-22.0},{"a":355,"e":20,"v":-23.8},
{"a":0,"e":15,"v":-28.5},{"a":5,"e":15,"v":-27.7},{"a":10,"e":15,"v":-25.5},{"a":15,"e":15,"v":-22.8},{"a":20,"e":15,"v":-20.6},{"a":25,"e":15,"v":-18.8},{"a":30,"e":15,"v":-17.4},{"a":35,"e":15,"v":-16.2},{"a":40,"e":15,"v":-15.5},{"a":45,"e":15,"v":-15.2},{"a":50,"e":15,"v":-15.5},{"a":55,"e":15,"v":-16.2},{"a":60,"e":15,"v":-17.4},{"a":65,"e":15,"v":-18.8},{"a":70,"e":15,"v":-20.6},{"a":75,"e":15,"v":-22.8},{"a":80,"e":15,"v":-25.5},{"a":85,"e":15,"v":-27.7},
{"a":90,"e":15,"v":-28.5},{"a":95,"e":15,"v":-27.7},{"a":100,"e":15,"v":-25.5},{"a":105,"e":15,"v":-22.8},{"a":110,"e":15,"v":-20.6},{"a":115,"e":15,"v":-18.8},{"a":120,"e":15,"v":-17.4},{"a":125,"e":15,"v":-16.2},{"a":130,"e":15,"v":-15.5},{"a":135,"e":15,"v":-15.2},{"a":140,"e":15,"v":-15.5},{"a":145,"e":15,"v":-16.2},{"a":150,"e":15,"v":-17.4},{"a":155,"e":15,"v":-18.8},{"a":160,"e":15,"v":-20.6},{"a":165,"e":15,"v":-22.8},{"a":170,"e":15,"v":-25.5},{"a":175,"e":15,"v":-27.7},
{"a":180,"e":15,"v":-28.5},{"a":185,"e":15,"v":-27.7},{"a":190,"e":15,"v":-25.5},{"a":195,"e":15,"v":-22.8},{"a":200,"e":15,"v":-20.6},{"a":205,"e":15,"v":-18.8},{"a":210,"e":15,"v":-17.4},{"a":215,"e":15,"v":-16.2},{"a":220,"e":15,"v":-15.5},{"a":225,"e":15,"v":-15.2},{"a":230,"e":15,"v":-15.5},{"a":235,"e":15,"v":-16.2},{"a":240,"e":15,"v":-17.4},{"a":245,"e":15,"v":-18.8},{"a":250,"e":15,"v":-20.6},{"a":255,"e":15,"v":-22.8},{"a":260,"e":15,"v":-25.5},{"a":265,"e":15,"v":-27.7},
{"a":270,"e":15,"v":-28.5},{"a":275,"e":15,"v":-27.7},{"a":280,"e":15,"v":-25.5},{"a":285,"e":15,"v":-22.8},{"a":290,"e":15,"v":-20.6},{"a":295,"e":15,"v":-18.8},{"a":300,"e":15,"v":-17.4},{"a":305,"e":15,"v":-16.2},{"a":310,"e":15,"v":-15.5},{"a":315,"e":15,"v":-15.2},{"a":320,"e":15,"v":-15.5},{"a":325,"e":15,"v":-16.2},{"a":330,"e":15,"v":-17.4},{"a":335,"e":15,"v":-18.8},{"a":340,"e":15,"v":-20.6},{"a":345,"e":15,"v":-22.8},{"a":350,"e":15,"v":-25.5},{"a":355,"e":15,"v":-27.7},
{"a":0,"e":10,"v":-33},{"a":5,"e":10,"v":-32},{"a":10,"e":10,"v":-29},{"a":15,"e":10,"v":-25.5},{"a":20,"e":10,"v":-22.8},{"a":25,"e":10,"v":-20.5},{"a":30,"e":10,"v":-18.8},{"a":35,"e":10,"v":-17.3},{"a":40,"e":10,"v":-16.4},{"a":45,"e":10,"v":-16},{"a":50,"e":10,"v":-16.4},{"a":55,"e":10,"v":-17.3},{"a":60,"e":10,"v":-18.8},{"a":65,"e":10,"v":-20.5},{"a":70,"e":10,"v":-22.8},{"a":75,"e":10,"v":-25.5},{"a":80,"e":10,"v":-29},{"a":85,"e":10,"v":-32},
{"a":90,"e":10,"v":-33},{"a":95,"e":10,"v":-32},{"a":100,"e":10,"v":-29},{"a":105,"e":10,"v":-25.5},{"a":110,"e":10,"v":-22.8},{"a":115,"e":10,"v":-20.5},{"a":120,"e":10,"v":-18.8},{"a":125,"e":10,"v":-17.3},{"a":130,"e":10,"v":-16.4},{"a":135,"e":10,"v":-16},{"a":140,"e":10,"v":-16.4},{"a":145,"e":10,"v":-17.3},{"a":150,"e":10,"v":-18.8},{"a":155,"e":10,"v":-20.5},{"a":160,"e":10,"v":-22.8},{"a":165,"e":10,"v":-25.5},{"a":170,"e":10,"v":-29},{"a":175,"e":10,"v":-32},
{"a":180,"e":10,"v":-33},{"a":185,"e":10,"v":-32},{"a":190,"e":10,"v":-29},{"a":195,"e":10,"v":-25.5},{"a":200,"e":10,"v":-22.8},{"a":205,"e":10,"v":-20.5},{"a":210,"e":10,"v":-18.8},{"a":215,"e":10,"v":-17.3},{"a":220,"e":10,"v":-16.4},{"a":225,"e":10,"v":-16},{"a":230,"e":10,"v":-16.4},{"a":235,"e":10,"v":-17.3},{"a":240,"e":10,"v":-18.8},{"a":245,"e":10,"v":-20.5},{"a":250,"e":10,"v":-22.8},{"a":255,"e":10,"v":-25.5},{"a":260,"e":10,"v":-29},{"a":265,"e":10,"v":-32},
{"a":270,"e":10,"v":-33},{"a":275,"e":10,"v":-32},{"a":280,"e":10,"v":-29},{"a":285,"e":10,"v":-25.5},{"a":290,"e":10,"v":-22.8},{"a":295,"e":10,"v":-20.5},{"a":300,"e":10,"v":-18.8},{"a":305,"e":10,"v":-17.3},{"a":310,"e":10,"v":-16.4},{"a":315,"e":10,"v":-16},{"a":320,"e":10,"v":-16.4},{"a":325,"e":10,"v":-17.3},{"a":330,"e":10,"v":-18.8},{"a":335,"e":10,"v":-20.5},{"a":340,"e":10,"v":-22.8},{"a":345,"e":10,"v":-25.5},{"a":350,"e":10,"v":-29},{"a":355,"e":10,"v":-32},
{"a":0,"e":5,"v":-38.5},{"a":5,"e":5,"v":-37},{"a":10,"e":5,"v":-32.5},{"a":15,"e":5,"v":-27.5},{"a":20,"e":5,"v":-24.2},{"a":25,"e":5,"v":-21.5},{"a":30,"e":5,"v":-19.5},{"a":35,"e":5,"v":-17.8},{"a":40,"e":5,"v":-16.8},{"a":45,"e":5,"v":-16.3},{"a":50,"e":5,"v":-16.8},{"a":55,"e":5,"v":-17.8},{"a":60,"e":5,"v":-19.5},{"a":65,"e":5,"v":-21.5},{"a":70,"e":5,"v":-24.2},{"a":75,"e":5,"v":-27.5},{"a":80,"e":5,"v":-32.5},{"a":85,"e":5,"v":-37},
{"a":90,"e":5,"v":-38.5},{"a":95,"e":5,"v":-37},{"a":100,"e":5,"v":-32.5},{"a":105,"e":5,"v":-27.5},{"a":110,"e":5,"v":-24.2},{"a":115,"e":5,"v":-21.5},{"a":120,"e":5,"v":-19.5},{"a":125,"e":5,"v":-17.8},{"a":130,"e":5,"v":-16.8},{"a":135,"e":5,"v":-16.3},{"a":140,"e":5,"v":-16.8},{"a":145,"e":5,"v":-17.8},{"a":150,"e":5,"v":-19.5},{"a":155,"e":5,"v":-21.5},{"a":160,"e":5,"v":-24.2},{"a":165,"e":5,"v":-27.5},{"a":170,"e":5,"v":-32.5},{"a":175,"e":5,"v":-37},
{"a":180,"e":5,"v":-38.5},{"a":185,"e":5,"v":-37},{"a":190,"e":5,"v":-32.5},{"a":195,"e":5,"v":-27.5},{"a":200,"e":5,"v":-24.2},{"a":205,"e":5,"v":-21.5},{"a":210,"e":5,"v":-19.5},{"a":215,"e":5,"v":-17.8},{"a":220,"e":5,"v":-16.8},{"a":225,"e":5,"v":-16.3},{"a":230,"e":5,"v":-16.8},{"a":235,"e":5,"v":-17.8},{"a":240,"e":5,"v":-19.5},{"a":245,"e":5,"v":-21.5},{"a":250,"e":5,"v":-24.2},{"a":255,"e":5,"v":-27.5},{"a":260,"e":5,"v":-32.5},{"a":265,"e":5,"v":-37},
{"a":270,"e":5,"v":-38.5},{"a":275,"e":5,"v":-37},{"a":280,"e":5,"v":-32.5},{"a":285,"e":5,"v":-27.5},{"a":290,"e":5,"v":-24.2},{"a":295,"e":5,"v":-21.5},{"a":300,"e":5,"v":-19.5},{"a":305,"e":5,"v":-17.8},{"a":310,"e":5,"v":-16.8},{"a":315,"e":5,"v":-16.3},{"a":320,"e":5,"v":-16.8},{"a":325,"e":5,"v":-17.8},{"a":330,"e":5,"v":-19.5},{"a":335,"e":5,"v":-21.5},{"a":340,"e":5,"v":-24.2},{"a":345,"e":5,"v":-27.5},{"a":350,"e":5,"v":-32.5},{"a":355,"e":5,"v":-37},
{"a":0,"e":0,"v":-40},{"a":5,"e":0,"v":-37.5},{"a":10,"e":0,"v":-33},{"a":15,"e":0,"v":-27.8},{"a":20,"e":0,"v":-24.5},{"a":25,"e":0,"v":-21.6},{"a":30,"e":0,"v":-19.5},{"a":35,"e":0,"v":-17.8},{"a":40,"e":0,"v":-16.8},{"a":45,"e":0,"v":-16.4},{"a":50,"e":0,"v":-16.8},{"a":55,"e":0,"v":-17.8},{"a":60,"e":0,"v":-19.5},{"a":65,"e":0,"v":-21.6},{"a":70,"e":0,"v":-24.5},{"a":75,"e":0,"v":-27.8},{"a":80,"e":0,"v":-33},{"a":85,"e":0,"v":-37.5},
{"a":90,"e":0,"v":-40},{"a":95,"e":0,"v":-37.5},{"a":100,"e":0,"v":-33},{"a":105,"e":0,"v":-27.8},{"a":110,"e":0,"v":-24.5},{"a":115,"e":0,"v":-21.6},{"a":120,"e":0,"v":-19.5},{"a":125,"e":0,"v":-17.8},{"a":130,"e":0,"v":-16.8},{"a":135,"e":0,"v":-16.4},{"a":140,"e":0,"v":-16.8},{"a":145,"e":0,"v":-17.8},{"a":150,"e":0,"v":-19.5},{"a":155,"e":0,"v":-21.6},{"a":160,"e":0,"v":-24.5},{"a":165,"e":0,"v":-27.8},{"a":170,"e":0,"v":-33},{"a":175,"e":0,"v":-37.5},
{"a":180,"e":0,"v":-40},{"a":185,"e":0,"v":-37.5},{"a":190,"e":0,"v":-33},{"a":195,"e":0,"v":-27.8},{"a":200,"e":0,"v":-24.5},{"a":205,"e":0,"v":-21.6},{"a":210,"e":0,"v":-19.5},{"a":215,"e":0,"v":-17.8},{"a":220,"e":0,"v":-16.8},{"a":225,"e":0,"v":-16.4},{"a":230,"e":0,"v":-16.8},{"a":235,"e":0,"v":-17.8},{"a":240,"e":0,"v":-19.5},{"a":245,"e":0,"v":-21.6},{"a":250,"e":0,"v":-24.5},{"a":255,"e":0,"v":-27.8},{"a":260,"e":0,"v":-33},{"a":265,"e":0,"v":-37.5},
{"a":270,"e":0,"v":-40},{"a":275,"e":0,"v":-37.5},{"a":280,"e":0,"v":-33},{"a":285,"e":0,"v":-27.8},{"a":290,"e":0,"v":-24.5},{"a":295,"e":0,"v":-21.6},{"a":300,"e":0,"v":-19.5},{"a":305,"e":0,"v":-17.8},{"a":310,"e":0,"v":-16.8},{"a":315,"e":0,"v":-16.4},{"a":320,"e":0,"v":-16.8},{"a":325,"e":0,"v":-17.8},{"a":330,"e":0,"v":-19.5},{"a":335,"e":0,"v":-21.6},{"a":340,"e":0,"v":-24.5},{"a":345,"e":0,"v":-27.8},{"a":350,"e":0,"v":-33},{"a":355,"e":0,"v":-37.5}
]},
"layer":[
{"data":{"name":"grid"},
 "mark":{"type":"rect","width":{"band":1.1},"height":{"band":1.04}},
 "encoding":{
  "x":{"field":"a","type":"ordinal","scale":{"domain":[0,5,10,15,20,25,30,35,40,45,50,55,60,65,70,75,80,85,90,95,100,105,110,115,120,125,130,135,140,145,150,155,160,165,170,175,180,185,190,195,200,205,210,215,220,225,230,235,240,245,250,255,260,265,270,275,280,285,290,295,300,305,310,315,320,325,330,335,340,345,350,355],"paddingInner":0,"paddingOuter":0},
   "axis":{"orient":"bottom","values":[0,50,100,150,200,250,300,350],"labels":false,"title":null,"domain":false,"ticks":true,"tickSize":-5,"tickColor":"#262626","tickWidth":0.8,"grid":true,"gridColor":"#000","gridOpacity":0.15,"gridWidth":0.8,"bandPosition":0.5,"zindex":1}},
  "y":{"field":"e","type":"ordinal","scale":{"domain":[90,85,80,75,70,65,60,55,50,45,40,35,30,25,20,15,10,5,0],"paddingInner":0,"paddingOuter":0},
   "axis":{"orient":"left","values":[90,80,70,60,50,40,30,20,10,0],"title":"Elevation (deg)","titleFontSize":10,"titleFontWeight":"normal","titleColor":"#262626","titlePadding":10,"labelFontSize":9.5,"labelColor":"#4d4d4d","labelPadding":10,"domain":false,"ticks":true,"tickSize":-5,"tickColor":"#262626","tickWidth":0.8,"grid":true,"gridColor":"#000","gridOpacity":0.15,"gridWidth":0.8,"bandPosition":0.5,"zindex":1}},
  "color":{"field":"v","type":"quantitative",
   "scale":{"type":"linear","zero":false,"clamp":true,"domain":[-40,-37.5,-35,-32.5,-30,-27.5,-25,-22.5,-20,-17.5,-15,-12.5,-10,-7.5,-5,-2.5,0],
    "range":["#3e26a8","#4336c9","#4649e4","#4263f4","#3580f6","#2995ec","#1ea8dc","#13b4c8","#1fbcb0","#3ac397","#5ec67c","#8ac560","#b5bf44","#ddb838","#f8ba3e","#f6dc29","#f9fb14"]},
   "legend":{"orient":"none","legendX":587,"legendY":0,"direction":"vertical","title":null,"gradientLength":750,"gradientThickness":13,"values":[0,-5,-10,-15,-20,-25,-30,-35,-40],"labelExpr":"'' + datum.value","labelFontSize":8.5,"labelColor":"#262626","labelOffset":4,"labelBaseline":"middle","labelOverlap":false,"gradientStrokeColor":"#262626","gradientStrokeWidth":0.8}}
 }},
{"data":{"name":"jam"},
 "mark":{"type":"point","shape":"M-1,-1L1,1M-1,1L1,-1","filled":false,"stroke":"white","strokeWidth":2,"size":81,"opacity":1},
 "encoding":{
  "x":{"field":"a","type":"ordinal","axis":{"orient":"top","values":[0,50,100,150,200,250,300,350],"labels":false,"title":null,"domain":false,"ticks":true,"tickSize":-5,"tickColor":"#262626","tickWidth":0.8,"grid":false,"bandPosition":0.5,"zindex":1}},
  "y":{"field":"e","type":"ordinal","axis":{"orient":"right","values":[90,80,70,60,50,40,30,20,10,0],"labels":false,"title":null,"domain":false,"ticks":true,"tickSize":-5,"tickColor":"#262626","tickWidth":0.8,"grid":false,"bandPosition":0.5,"zindex":1}}
 }}
],
"resolve":{"axis":{"x":"independent","y":"independent"}}
}
